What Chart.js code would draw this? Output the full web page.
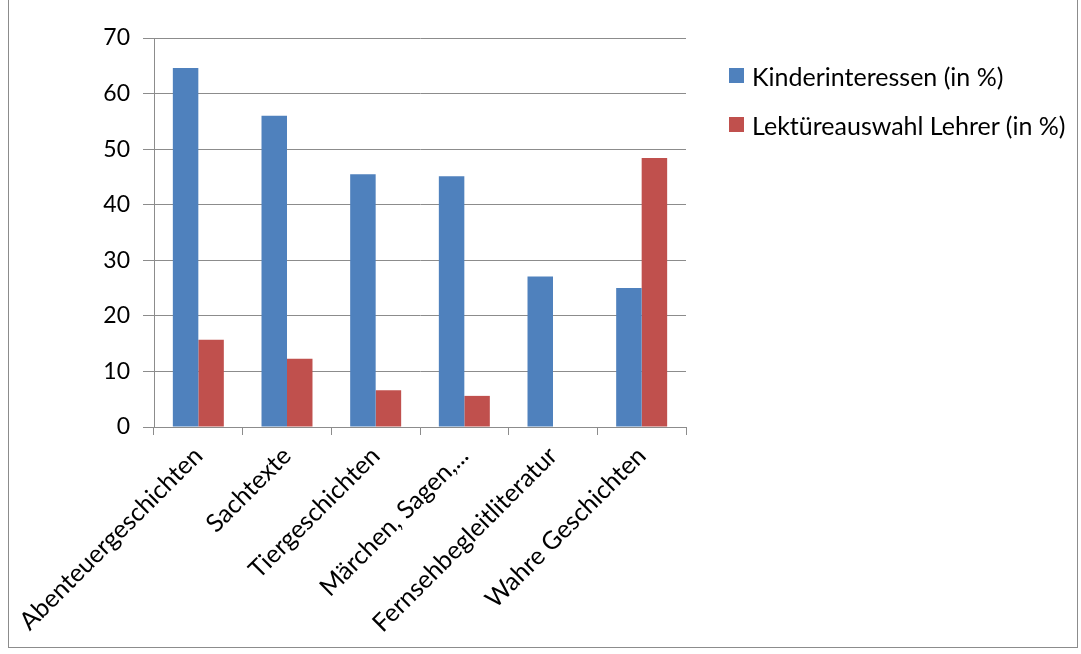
<!DOCTYPE html>
<html>
<head>
<meta charset="utf-8">
<script src="https://cdn.jsdelivr.net/npm/chart.js@4.4.0/dist/chart.umd.min.js"></script>
<style>
  html, body { margin: 0; padding: 0; background: #fff; }
  #wrap { position: relative; width: 1081px; height: 654px; }
  #frame { position: absolute; left: 8px; top: -1px; width: 1070px; height: 649px; border: 1px solid #8c8c8c; box-sizing: border-box; }
  canvas { position: absolute; left: 0; top: 0; }
  #legend { position: absolute; left: 729px; top: 51px; font-family: Lato, sans-serif; font-size: 25px; color: #000; }
  .item { height: 49px; display: flex; align-items: center; white-space: nowrap; }
  .box { width: 15px; height: 15px; margin-right: 8px; flex: none; }
</style>
</head>
<body>
<div id="wrap">
  <div id="frame"></div>
  <canvas id="chart" width="1081" height="654"></canvas>
  <div id="legend"></div>
</div>
<script>
const categories = ['Abenteuergeschichten', 'Sachtexte', 'Tiergeschichten', 'Märchen, Sagen,...', 'Fernsehbegleitliteratur', 'Wahre Geschichten'];
const kinderinteressen = [64.6, 56.0, 45.5, 45.1, 27.1, 25.0];
const lehrerAuswahl = [15.7, 12.3, 6.6, 5.6, 0, 48.4];
const yTicks = [0, 10, 20, 30, 40, 50, 60, 70];

Chart.defaults.font.family = 'Lato, "Open Sans", sans-serif';
Chart.defaults.color = '#000';

const ctx = document.getElementById('chart').getContext('2d');
const chart = new Chart(ctx, {
    type: 'bar',
    data: {
        labels: categories,
        datasets: [{
            label: 'Kinderinteressen (in %)',
            data: kinderinteressen,
            backgroundColor: '#4f81bd',
            borderWidth: 0
        }, {
            label: 'Lektüreauswahl Lehrer (in %)',
            data: lehrerAuswahl,
            backgroundColor: '#c0504d',
            borderWidth: 0
        }]
    },
    options: {
        responsive: false,
        animation: false,
        devicePixelRatio: 1,
        layout: { padding: { top: 38, left: 0, right: 395, bottom: 0 } },
        datasets: { bar: { categoryPercentage: 0.575, barPercentage: 1 } },
        plugins: {
            tooltip: { enabled: false },
            legend: { display: false }
        },
        scales: {
            x: {
                afterFit: axis => { axis.height = 227; },
                grid: { display: true, drawOnChartArea: false, offset: true, tickLength: 8, color: '#8c8c8c' },
                border: { color: '#8c8c8c' },
                ticks: { minRotation: 45, maxRotation: 45, font: { size: 25 }, color: '#000', padding: 6 }
            },
            y: {
                min: 0,
                max: 70,
                afterBuildTicks: axis => { axis.ticks = yTicks.map(v => ({ value: v })); },
                afterFit: axis => { axis.width = 154; },
                grid: { color: '#8c8c8c', tickLength: 11 },
                border: { color: '#8c8c8c' },
                ticks: { font: { size: 23 }, color: '#000', padding: 13 }
            }
        }
    }
});

// legend built from the chart's datasets
const legend = document.getElementById('legend');
chart.data.datasets.forEach(ds => {
    const item = document.createElement('div');
    item.className = 'item';
    const box = document.createElement('span');
    box.className = 'box';
    box.style.background = ds.backgroundColor;
    item.appendChild(box);
    item.appendChild(document.createTextNode(ds.label));
    legend.appendChild(item);
});
</script>
</body>
</html>
